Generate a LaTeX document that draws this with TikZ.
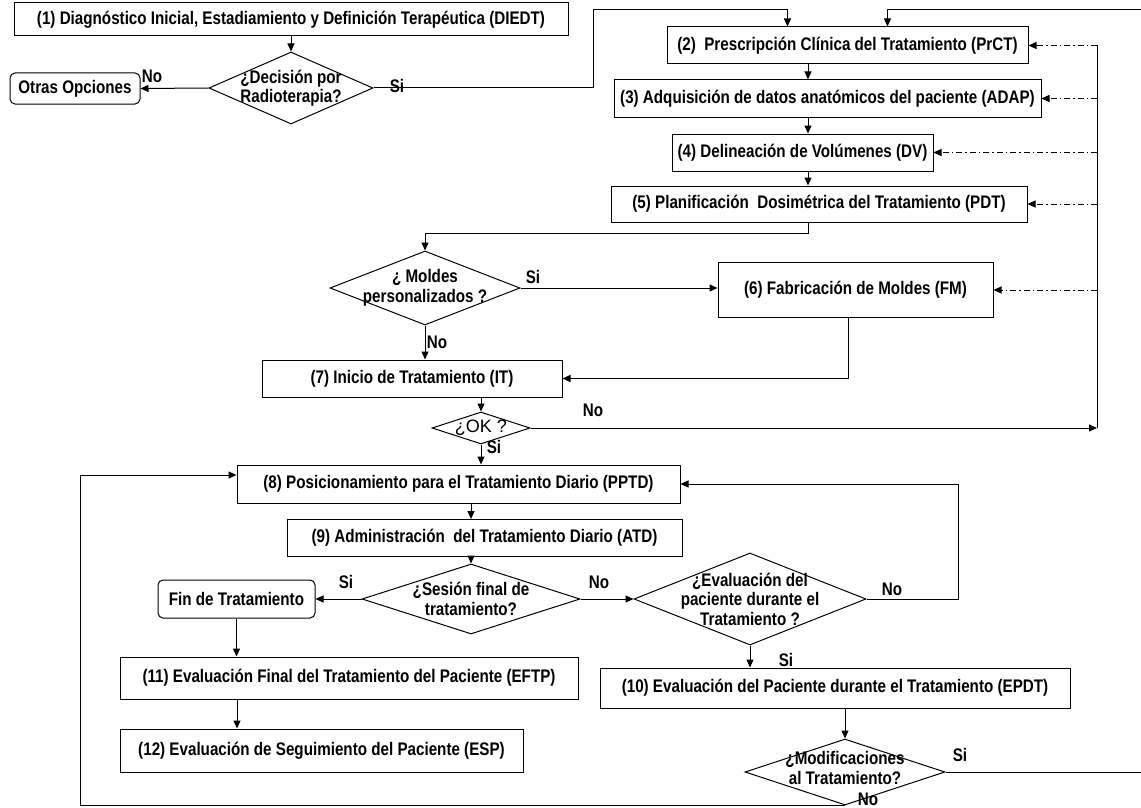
\documentclass[tikz,border=0pt]{standalone}
\usepackage{fontspec}
\setmainfont{Liberation Sans}[FakeStretch=0.835]
\newfontfamily\plainsans{Liberation Sans}
\usetikzlibrary{arrows.meta,shapes.geometric}

\begin{document}
\begin{tikzpicture}[x=1pt,y=-1pt,>={Triangle[length=8pt,width=7pt]},line width=1pt,
    every node/.style={font=\fontsize{18.2}{19.5}\selectfont\bfseries},
    proc/.style 2 args={draw,rectangle,minimum width=#1,minimum height=#2,inner sep=0pt},
    term/.style 2 args={proc={#1}{#2},rounded corners=5pt},
    dec/.style 2 args={draw,diamond,minimum width=#1,minimum height=#2,inner sep=0pt},
    dtxt/.style={align=center,inner sep=0pt},
    lab/.style={inner sep=1pt},
    fb/.style={->,dash pattern=on 6pt off 3pt on 1.5pt off 3pt}]
    \useasboundingbox (0,0) rectangle (1141,808);
    % boxes
    \node[proc={554}{33}] (diedt) at (291,19.5) {(1) Diagnóstico Inicial, Estadiamiento y Definición Terapéutica (DIEDT)};
    \node[term={130}{31}] (otras) at (75,88.5) {Otras Opciones};
    \node[proc={361}{37}] (prct) at (847.5,45.5) {(2)\ \ Prescripción Clínica del Tratamiento (PrCT)};
    \node[proc={427}{37}] (adap) at (827.5,98.5) {(3) Adquisición de datos anatómicos del paciente (ADAP)};
    \node[proc={261}{37}] (dv) at (802.5,152.5) {(4) Delineación de Volúmenes (DV)};
    \node[proc={416}{36}] (pdt) at (819,204) {(5) Planificación\ \ Dosimétrica del Tratamiento (PDT)};
    \node[proc={275}{55}] (fm) at (855.5,290) {(6) Fabricación de Moldes (FM)};
    \node[proc={300}{37}] (it) at (412,378.5) {(7) Inicio de Tratamiento (IT)};
    \node[proc={443}{38}] (pptd) at (458.5,484) {(8) Posicionamiento para el Tratamiento Diario (PPTD)};
    \node[proc={395}{37}] (atd) at (484.5,538) {(9) Administración\ \ del Tratamiento Diario (ATD)};
    \node[term={157}{38}] (fin) at (236.5,599) {Fin de Tratamiento};
    \node[proc={470}{40}] (epdt) at (835,688) {(10) Evaluación del Paciente durante el Tratamiento (EPDT)};
    \node[proc={458}{42}] (eftp) at (349,678) {(11) Evaluación Final del Tratamiento del Paciente (EFTP)};
    \node[proc={403}{43}] (esp) at (321.5,750.5) {(12) Evaluación de Seguimiento del Paciente (ESP)};
    % decisions
    \node[dec={164}{72}] (qrt) at (291,88) {};
    \node[dtxt] (qrtt) at (qrt) {¿Decisión por\\Radioterapia?};
    \node[dec={190}{74}] (qmol) at (425,288) {};
    \node[dtxt] (qmolt) at (qmol) {¿ Moldes\\personalizados ?};
    \node[dec={98}{32}] (qok) at (481,428) {};
    \node[dtxt,font=\plainsans\fontsize{18}{19}\selectfont] (qokt) at (qok) {¿OK ?};
    \node[dec={218}{70}] (qses) at (471,599) {};
    \node[dtxt] (qsest) at (qses) {¿Sesión final de\\tratamiento?};
    \node[dec={232}{92}] (qev) at (750,599) {};
    \node[dtxt] (qevt) at (qev) {¿Evaluación del\\paciente durante el\\Tratamiento ?};
    \node[dec={200}{66}] (qmod) at (845,772) {};
    \node[dtxt] (qmodt) at ([yshift=4pt]qmod.center) {¿Modificaciones\\al Tratamiento?};
    % Si / No
    \node[lab] (l1) at (152,76) {No};
    \node[lab] (l2) at (397,86) {Si};
    \node[lab] (l3) at (533,277) {Si};
    \node[lab] (l4) at (437,342) {No};
    \node[lab] (l5) at (593,410) {No};
    \node[lab] (l6) at (494,447) {Si};
    \node[lab] (l7) at (346,582) {Si};
    \node[lab] (l8) at (599,582) {No};
    \node[lab] (l9) at (892,589) {No};
    \node[lab] (l10) at (786,660) {Si};
    \node[lab] (l11) at (960,755) {Si};
    \node[lab] (l12) at (868,799) {No};
    % connectors
    \coordinate (inR) at (1141,10);
    \coordinate (outR) at (1141,772);
    \draw[->] (diedt.south) -- (qrt.north);
    \draw[->] (qrt.west) -- (otras.east);
    \draw[->] (qrt.east) -| (593,10) -| ([xshift=-60pt]prct.north);
    \draw[->] (inR) -| ([xshift=40pt]prct.north);
    \draw[->] (808,0 |- prct.south) -- (808,0 |- adap.north);
    \draw[->] (808,0 |- adap.south) -- (808,0 |- dv.north);
    \draw[->] (808,0 |- dv.south) -- (808,0 |- pdt.north);
    \draw[->] (808,0 |- pdt.south) -- (808,233) -| (qmol.north);
    \draw[->] (qmol.east) -- (qmol.east -| fm.west);
    \draw[->] (848,0 |- fm.south) |- (it.east);
    \draw[->] (qmol.south) -- (qmol.south |- it.north);
    \draw[->] (481,0 |- it.south) -- (qok.north);
    \draw[->] (qok.south) -- (qok.south |- pptd.north);
    % feedback to (2)-(6)
    \draw[->] (qok.east) -- (qok.east -| 1097,0);
    \draw (prct.east -| 1097,0) -- (qok.east -| 1097,0);
    \foreach \n in {prct,adap,dv,pdt,fm}
      \draw[fb] (\n.east -| 1097,0) -- (\n.east);
    % daily loop
    \draw[->] (471,0 |- pptd.south) -- (471,0 |- atd.north);
    \draw[->] (471,0 |- atd.south) -- (qses.north);
    \draw[->] (qses.west) -- (fin.east);
    \draw[->] (qses.east) -- (qev.west);
    \draw[->] (qev.east) -- (958,0 |- qev.east) |- (pptd.east);
    \draw[->] (qev.south) -- (qev.south |- epdt.north);
    \draw[->] (fin.south) -- (fin.south |- eftp.north);
    \draw[->] (237,0 |- eftp.south) -- (237,0 |- esp.north);
    \draw[->] (845,0 |- epdt.south) -- (qmod.north);
    \draw (qmod.east) -- (outR);
    \draw[->] (qmod.south) -- (80,0 |- qmod.south) |- ([yshift=9pt]pptd.west);
\end{tikzpicture}
\end{document}
